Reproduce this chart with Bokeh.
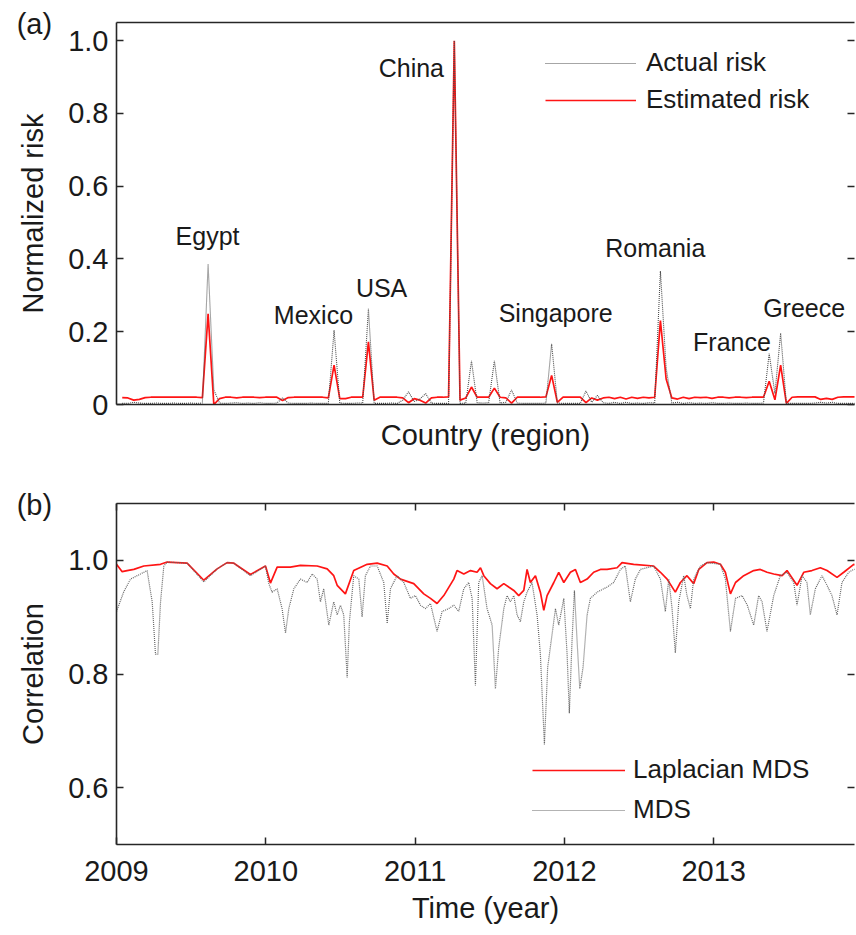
from bokeh.plotting import figure
from bokeh.models import (Range1d, LinearAxis, FixedTicker, Legend, LegendItem, Label,
                          CustomJSTickFormatter)
from bokeh.layouts import column
from bokeh.embed import file_html
from bokeh.resources import INLINE

# ---------------- panel (a) data ----------------
country_idx = list(range(1, 131))
estimated_risk = [
    0.019, 0.018, 0.012, 0.014, 0.019, 0.020, 0.020, 0.020, 0.020, 0.020,
    0.020, 0.020, 0.020, 0.020, 0.019, 0.249, 0.000, 0.016, 0.020, 0.020,
    0.018, 0.020, 0.020, 0.020, 0.019, 0.020, 0.020, 0.020, 0.011, 0.019,
    0.020, 0.020, 0.020, 0.020, 0.020, 0.020, 0.018, 0.108, 0.016, 0.016,
    0.020, 0.020, 0.020, 0.172, 0.012, 0.020, 0.020, 0.020, 0.020, 0.018,
    0.005, 0.016, 0.012, 0.004, 0.018, 0.020, 0.020, 0.021, 1.000, 0.012,
    0.018, 0.048, 0.020, 0.020, 0.020, 0.045, 0.020, 0.018, 0.004, 0.020,
    0.020, 0.020, 0.020, 0.020, 0.021, 0.080, 0.006, 0.020, 0.020, 0.020,
    0.020, 0.005, 0.018, 0.012, 0.018, 0.020, 0.016, 0.020, 0.015, 0.020,
    0.017, 0.020, 0.018, 0.020, 0.231, 0.070, 0.018, 0.015, 0.020, 0.016,
    0.020, 0.019, 0.020, 0.017, 0.020, 0.020, 0.018, 0.020, 0.020, 0.019,
    0.020, 0.020, 0.020, 0.064, 0.013, 0.108, 0.003, 0.020, 0.021, 0.021,
    0.021, 0.021, 0.014, 0.017, 0.014, 0.020, 0.021, 0.021, 0.021, 0.021,
]
actual_risk = [
    0.003, 0.003, 0.006, 0.004, 0.003, 0.003, 0.004, 0.003, 0.003, 0.004,
    0.003, 0.003, 0.004, 0.003, 0.004, 0.386, 0.040, 0.004, 0.003, 0.004,
    0.005, 0.003, 0.004, 0.003, 0.005, 0.003, 0.003, 0.004, 0.018, 0.004,
    0.003, 0.003, 0.003, 0.004, 0.003, 0.003, 0.003, 0.204, 0.004, 0.003,
    0.003, 0.004, 0.004, 0.263, 0.003, 0.003, 0.003, 0.004, 0.003, 0.012,
    0.035, 0.008, 0.015, 0.030, 0.004, 0.003, 0.003, 0.003, 1.000, 0.003,
    0.004, 0.120, 0.005, 0.004, 0.005, 0.120, 0.004, 0.006, 0.040, 0.004,
    0.003, 0.003, 0.003, 0.003, 0.004, 0.167, 0.004, 0.003, 0.003, 0.003,
    0.003, 0.037, 0.006, 0.025, 0.005, 0.003, 0.006, 0.003, 0.006, 0.003,
    0.004, 0.003, 0.005, 0.004, 0.367, 0.100, 0.004, 0.006, 0.003, 0.005,
    0.003, 0.004, 0.003, 0.005, 0.003, 0.003, 0.004, 0.003, 0.003, 0.004,
    0.003, 0.003, 0.004, 0.140, 0.030, 0.196, 0.003, 0.003, 0.003, 0.003,
    0.003, 0.004, 0.006, 0.004, 0.006, 0.003, 0.003, 0.003, 0.003, 0.003,
]
peak_names = ["Egypt", "Mexico", "USA", "China", "Singapore", "Romania", "France", "Greece"]
risk_ticks = [0, 0.2, 0.4, 0.6, 0.8, 1.0]

# ---------------- panel (b) data ----------------
lap_years = [
    2009.000, 2009.038, 2009.071, 2009.116, 2009.183, 2009.295, 2009.339, 2009.473, 2009.585, 2009.674,
    2009.741, 2009.786, 2009.897, 2009.998, 2010.031, 2010.076, 2010.165, 2010.232, 2010.344, 2010.411,
    2010.455, 2010.478, 2010.533, 2010.589, 2010.679, 2010.746, 2010.813, 2010.857, 2010.902, 2010.991,
    2011.058, 2011.103, 2011.147, 2011.192, 2011.259, 2011.281, 2011.326, 2011.371, 2011.415, 2011.438,
    2011.460, 2011.504, 2011.549, 2011.594, 2011.627, 2011.661, 2011.694, 2011.728, 2011.750, 2011.772,
    2011.806, 2011.839, 2011.862, 2011.884, 2011.929, 2011.962, 2011.996, 2012.040, 2012.074, 2012.107,
    2012.152, 2012.196, 2012.241, 2012.286, 2012.353, 2012.386, 2012.464, 2012.598, 2012.643, 2012.688,
    2012.743, 2012.777, 2012.821, 2012.866, 2012.900, 2012.955, 2013.000, 2013.045, 2013.078, 2013.112,
    2013.146, 2013.201, 2013.268, 2013.312, 2013.357, 2013.402, 2013.458, 2013.491, 2013.558, 2013.603,
    2013.658, 2013.714, 2013.759, 2013.826, 2013.871, 2013.938, 2013.990,
]
lap_corr = [
    0.993, 0.980, 0.982, 0.984, 0.990, 0.993, 0.997, 0.995, 0.965, 0.985,
    0.996, 0.995, 0.975, 0.990, 0.960, 0.988, 0.988, 0.991, 0.990, 0.985,
    0.973, 0.956, 0.941, 0.982, 0.993, 0.995, 0.990, 0.976, 0.967, 0.959,
    0.941, 0.933, 0.924, 0.938, 0.967, 0.982, 0.976, 0.982, 0.979, 0.987,
    0.973, 0.959, 0.950, 0.959, 0.953, 0.947, 0.938, 0.947, 0.984, 0.961,
    0.973, 0.944, 0.912, 0.938, 0.961, 0.979, 0.961, 0.979, 0.984, 0.961,
    0.967, 0.979, 0.984, 0.984, 0.987, 0.996, 0.993, 0.990, 0.979, 0.967,
    0.944, 0.961, 0.973, 0.959, 0.984, 0.996, 0.997, 0.993, 0.979, 0.941,
    0.961, 0.973, 0.982, 0.984, 0.979, 0.976, 0.973, 0.982, 0.956, 0.979,
    0.982, 0.987, 0.982, 0.970, 0.979, 0.993, 0.990,
]
mds_years = [
    2009.000, 2009.049, 2009.094, 2009.161, 2009.205, 2009.239, 2009.261, 2009.277, 2009.295, 2009.317,
    2009.339, 2009.473, 2009.585, 2009.674, 2009.741, 2009.786, 2009.897, 2009.998, 2010.020, 2010.042,
    2010.076, 2010.109, 2010.132, 2010.154, 2010.188, 2010.232, 2010.277, 2010.310, 2010.344, 2010.366,
    2010.388, 2010.422, 2010.455, 2010.478, 2010.500, 2010.522, 2010.545, 2010.560, 2010.589, 2010.623,
    2010.645, 2010.667, 2010.701, 2010.746, 2010.790, 2010.813, 2010.835, 2010.879, 2010.924, 2010.969,
    2011.002, 2011.036, 2011.069, 2011.103, 2011.147, 2011.181, 2011.225, 2011.259, 2011.292, 2011.326,
    2011.359, 2011.382, 2011.404, 2011.426, 2011.449, 2011.482, 2011.516, 2011.538, 2011.560, 2011.594,
    2011.616, 2011.638, 2011.661, 2011.683, 2011.705, 2011.728, 2011.750, 2011.783, 2011.817, 2011.839,
    2011.866, 2011.888, 2011.917, 2011.940, 2011.962, 2011.996, 2012.018, 2012.033, 2012.051, 2012.067,
    2012.085, 2012.103, 2012.125, 2012.152, 2012.174, 2012.219, 2012.286, 2012.330, 2012.375, 2012.408,
    2012.442, 2012.475, 2012.509, 2012.598, 2012.643, 2012.676, 2012.699, 2012.721, 2012.743, 2012.766,
    2012.799, 2012.821, 2012.844, 2012.866, 2012.911, 2012.955, 2013.045, 2013.078, 2013.112, 2013.146,
    2013.190, 2013.225, 2013.268, 2013.301, 2013.324, 2013.357, 2013.402, 2013.446, 2013.491, 2013.536,
    2013.558, 2013.592, 2013.625, 2013.647, 2013.681, 2013.725, 2013.759, 2013.792, 2013.826, 2013.859,
    2013.904, 2013.938, 2013.990,
]
mds_corr = [
    0.910, 0.945, 0.967, 0.976, 0.982, 0.927, 0.835, 0.835, 0.927, 0.990,
    0.997, 0.995, 0.962, 0.985, 0.996, 0.995, 0.973, 0.990, 0.959, 0.944,
    0.950, 0.915, 0.872, 0.915, 0.950, 0.967, 0.961, 0.976, 0.967, 0.927,
    0.950, 0.886, 0.927, 0.904, 0.921, 0.904, 0.794, 0.892, 0.973, 0.967,
    0.901, 0.973, 0.990, 0.990, 0.961, 0.889, 0.950, 0.973, 0.961, 0.933,
    0.938, 0.921, 0.915, 0.924, 0.875, 0.910, 0.915, 0.921, 0.910, 0.950,
    0.961, 0.933, 0.780, 0.961, 0.973, 0.915, 0.886, 0.774, 0.846, 0.915,
    0.938, 0.927, 0.938, 0.904, 0.892, 0.927, 0.944, 0.961, 0.904, 0.835,
    0.676, 0.812, 0.869, 0.915, 0.886, 0.933, 0.835, 0.731, 0.858, 0.947,
    0.858, 0.774, 0.812, 0.904, 0.933, 0.944, 0.953, 0.961, 0.984, 0.990,
    0.927, 0.967, 0.984, 0.990, 0.967, 0.910, 0.967, 0.915, 0.837, 0.927,
    0.973, 0.938, 0.915, 0.967, 0.990, 0.996, 0.993, 0.967, 0.875, 0.933,
    0.938, 0.921, 0.886, 0.938, 0.927, 0.875, 0.938, 0.973, 0.979, 0.961,
    0.921, 0.973, 0.961, 0.904, 0.950, 0.973, 0.956, 0.938, 0.904, 0.961,
    0.979, 0.984, 0.985,
]
year_ticks = [2009, 2010, 2011, 2012, 2013, 2014]
corr_ticks = [0.6, 0.8, 1.0]

assert len(lap_years) == len(lap_corr), (len(lap_years), len(lap_corr))
assert len(mds_years) == len(mds_corr), (len(mds_years), len(mds_corr))
assert len(country_idx) == len(actual_risk) == len(estimated_risk)

# ---------------- styling helpers ----------------
FONT = "Liberation Sans"
INK = "#1a1a1a"
AXC = "#262626"
RED = "#ff1414"
GRAY = "#4d4d4d"


def style_axis(ax, tick_len=7, line=True):
    ax.axis_line_color = AXC if line else None
    ax.axis_line_width = 1.6
    ax.major_tick_in = tick_len
    ax.major_tick_out = 0
    ax.major_tick_line_color = AXC
    ax.major_tick_line_width = 1.5
    ax.minor_tick_in = tick_len
    ax.minor_tick_out = 0
    ax.minor_tick_line_color = AXC
    ax.minor_tick_line_width = 1.5
    ax.major_label_text_font = FONT
    ax.major_label_text_color = INK
    ax.major_label_text_font_size = "29px"
    ax.major_label_standoff = 8
    ax.axis_label_text_font = FONT
    ax.axis_label_text_font_size = "29px"
    ax.axis_label_text_font_style = "normal"
    ax.axis_label_text_color = INK
    return ax


def tick_only_axis(ticks, line=True):
    # ticks drawn as minor ticks so that no tick labels exist on this side
    return style_axis(LinearAxis(ticker=FixedTicker(ticks=[], minor_ticks=ticks)), line=line)


def panel_left_axis(ticks, tag_pos, tag, label):
    # tick marks are minor ticks; major ticks only carry the labels, plus the panel tag
    fmt = CustomJSTickFormatter(args=dict(tag_pos=tag_pos, tag=tag), code="""
        if (Math.abs(tick - tag_pos) < 1e-6) return tag + "\\u00a0".repeat(7);
        return tick === 0 ? "0" : tick.toFixed(1);
    """)
    ax = style_axis(LinearAxis(ticker=FixedTicker(ticks=ticks + [tag_pos], minor_ticks=ticks),
                               formatter=fmt, axis_label=label))
    ax.major_tick_in = 0
    ax.major_tick_line_color = None
    ax.axis_label_standoff = -35
    return ax


# ---------------- panel (a) ----------------
p1 = figure(width=856, height=478, x_range=Range1d(0, 128.9), y_range=Range1d(0, 1.05),
            x_axis_type=None, y_axis_type=None, output_backend="svg", toolbar_location=None,
            min_border_left=116, min_border_right=2, min_border_top=22, min_border_bottom=74)
p1.outline_line_color = None
p1.background_fill_color = "white"

r_est = p1.line(country_idx, estimated_risk, line_color=RED, line_width=1.7)
r_act = p1.line(country_idx, actual_risk, line_color=GRAY, line_width=1.1, line_dash="1 1")

p1.add_layout(panel_left_axis(risk_ticks, 1.046, "(a)", "Normalized risk"), "left")
p1.add_layout(tick_only_axis(risk_ticks, line=False), "right")
p1.add_layout(tick_only_axis([]), "above")
axb = style_axis(LinearAxis(ticker=FixedTicker(ticks=[]), axis_label="Country (region)"))
axb.major_label_standoff = 0
axb.axis_label_standoff = 14
p1.add_layout(axb, "below")

leg1 = Legend(items=[LegendItem(label="Actual risk", renderers=[r_act]),
                     LegendItem(label="Estimated risk", renderers=[r_est])],
              location=(429, 289), padding=0, margin=0, spacing=6,
              glyph_width=91, glyph_height=30, label_height=30, label_standoff=10,
              border_line_alpha=0, background_fill_alpha=0,
              label_text_font=FONT, label_text_font_size="26px", label_text_color=INK)
p1.add_layout(leg1)

# label anchors (annotation placement, data units)
name_x = [15.9, 34.4, 46.3, 51.5, 76.7, 94.1, 107.5, 120.1]
name_y = [0.464, 0.245, 0.321, 0.924, 0.252, 0.430, 0.173, 0.264]
for nm, lx, ly in zip(peak_names, name_x, name_y):
    p1.add_layout(Label(x=lx, y=ly, text=nm, text_align="center", text_baseline="alphabetic",
                        text_font=FONT, text_font_size="25px", text_color=INK))

# ---------------- panel (b) ----------------
p2 = figure(width=856, height=448, x_range=Range1d(2009, 2013.943), y_range=Range1d(0.5, 1.1),
            x_axis_type=None, y_axis_type=None, output_backend="svg", toolbar_location=None,
            min_border_left=116, min_border_right=2, min_border_top=25, min_border_bottom=77)
p2.outline_line_color = None

r_lap = p2.line(lap_years, lap_corr, line_color=RED, line_width=1.7)
r_mds = p2.line(mds_years, mds_corr, line_color="#666666", line_width=1.2, line_dash="1 1")

p2.add_layout(panel_left_axis(corr_ticks, 1.0965, "(b)", "Correlation"), "left")
p2.add_layout(tick_only_axis(corr_ticks, line=False), "right")
p2.add_layout(tick_only_axis(year_ticks), "above")
ax2 = style_axis(LinearAxis(ticker=FixedTicker(ticks=year_ticks), axis_label="Time (year)"))
ax2.major_label_standoff = 16
ax2.axis_label_standoff = 8
p2.add_layout(ax2, "below")

leg2 = Legend(items=[LegendItem(label="Laplacian MDS", renderers=[r_lap]),
                     LegendItem(label="MDS", renderers=[r_mds])],
              location=(416, 19), padding=0, margin=0, spacing=9,
              glyph_width=93, glyph_height=30, label_height=30, label_standoff=8,
              border_line_alpha=0, background_fill_alpha=0,
              label_text_font=FONT, label_text_font_size="26px", label_text_color=INK)
p2.add_layout(leg2)

layout = column(p1, p2, spacing=0)
open("out.html", "w").write(file_html(layout, INLINE))
